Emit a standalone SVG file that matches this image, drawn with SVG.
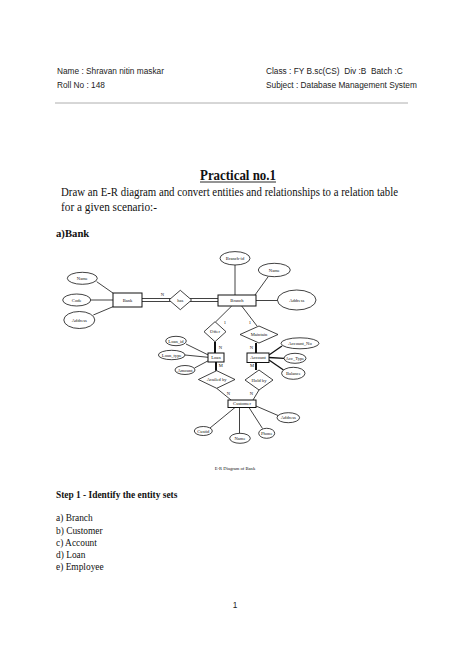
<svg xmlns="http://www.w3.org/2000/svg" width="474" height="670" viewBox="0 0 474 670">
<style>
.hdr{font-family:"Liberation Sans",Arial,sans-serif;font-size:8.3px;fill:#222;white-space:pre}
.tm{font-family:"Liberation Serif","Times New Roman",serif;fill:#111}
.lbl{font-family:"Liberation Serif","Times New Roman",serif;font-size:4.6px;text-anchor:middle;dominant-baseline:central;fill:#111}
.ent{fill:#fff;stroke:#111;stroke-width:1}
.att{fill:#fff;stroke:#111;stroke-width:0.8}
.rel{fill:#fff;stroke:#111;stroke-width:0.8}
.ln{stroke:#111;stroke-width:0.8;fill:none}
.thk{stroke:#111;stroke-width:2;fill:none}
.mid{stroke:#111;stroke-width:1.3;fill:none}
.it{font-size:9.4px}
</style>
<rect width="474" height="670" fill="#fff"/>

<g id="header">
<text class="hdr" x="57" y="74">Name : Shravan nitin maskar</text>
<text class="hdr" x="57" y="88">Roll No : 148</text>
<text class="hdr" x="266" y="74" xml:space="preserve">Class : FY B.sc(CS)  Div :B  Batch :C</text>
<text class="hdr" x="266" y="88">Subject : Database Management System</text>
<line x1="55" y1="103" x2="408" y2="103" stroke="#999" stroke-width="0.8"/>
</g>

<g id="title">
<text class="tm" x="200" y="180" font-size="14.5" font-weight="bold" textLength="76" lengthAdjust="spacingAndGlyphs">Practical no.1</text>
<line x1="200" y1="182" x2="276" y2="182" stroke="#111" stroke-width="0.9"/>
<text class="tm" x="61" y="196" font-size="11.6" textLength="337" lengthAdjust="spacingAndGlyphs">Draw an E-R diagram and convert entities and relationships to a relation table</text>
<text class="tm" x="61" y="211" font-size="11.6" textLength="96" lengthAdjust="spacingAndGlyphs">for a given scenario:-</text>
<text class="tm" x="56" y="236.5" font-size="10.7" font-weight="bold">a)Bank</text>
</g>

<g id="connectors">
<line class="ln" x1="96.7" y1="281.7" x2="113.3" y2="293.3"/>
<line class="ln" x1="90.7" y1="300" x2="113" y2="300"/>
<line class="ln" x1="93.3" y1="315" x2="113" y2="306.7"/>
<line class="ln" x1="142" y1="298.5" x2="170.8" y2="298.5"/>
<line class="ln" x1="142" y1="301.5" x2="170.8" y2="301.5"/>
<line class="ln" x1="189.8" y1="298.5" x2="218" y2="298.5"/>
<line class="ln" x1="189.8" y1="301.5" x2="218" y2="301.5"/>
<line class="ln" x1="235" y1="265" x2="235" y2="295"/>
<line class="ln" x1="268.3" y1="276.5" x2="255" y2="295"/>
<line class="ln" x1="256" y1="300.5" x2="277.4" y2="300.5"/>
<line class="ln" x1="231.7" y1="306" x2="215.5" y2="322"/>
<line class="ln" x1="241.7" y1="306" x2="257" y2="326"/>
<line class="thk" x1="215" y1="341.7" x2="215" y2="353"/>
<line class="thk" x1="216" y1="362" x2="216" y2="370.7"/>
<line class="ln" x1="186" y1="344" x2="208.3" y2="355"/>
<line class="ln" x1="185" y1="355" x2="208.3" y2="357.3"/>
<line class="ln" x1="194.5" y1="368" x2="208.3" y2="360.7"/>
<line class="thk" x1="256" y1="343" x2="256" y2="353"/>
<line class="thk" x1="256" y1="362.5" x2="256" y2="370"/>
<line class="mid" x1="269" y1="355" x2="282" y2="346"/>
<line class="mid" x1="269" y1="357.5" x2="284" y2="358.3"/>
<line class="mid" x1="269" y1="360" x2="283.5" y2="370"/>
<line class="ln" x1="216.7" y1="388.3" x2="231" y2="400"/>
<line class="ln" x1="259" y1="390" x2="253" y2="400"/>
<line class="ln" x1="235" y1="407.5" x2="210" y2="428"/>
<line class="ln" x1="239.5" y1="407.5" x2="239.5" y2="433.3"/>
<line class="ln" x1="249" y1="407.5" x2="262.5" y2="428.5"/>
<line class="ln" x1="256" y1="406" x2="278" y2="415.5"/>
<text class="lbl" x="162.3" y="294.3">N</text>
<text class="lbl" x="225" y="322">1</text>
<text class="lbl" x="250" y="322">1</text>
<text class="lbl" x="220.5" y="347.5">N</text>
<text class="lbl" x="220.7" y="365">M</text>
<text class="lbl" x="251.5" y="347">N</text>
<text class="lbl" x="252" y="365.5">M</text>
<text class="lbl" x="228.3" y="393.3">N</text>
<text class="lbl" x="251.5" y="393">N</text>
</g>

<g id="bank"><rect class="ent" x="113" y="293" width="29" height="14"/><text class="lbl" x="127.5" y="300">Bank</text></g>
<g id="bank-name"><ellipse class="att" cx="82.3" cy="278.3" rx="15" ry="6"/><text class="lbl" x="82.3" y="278.3">Name</text></g>
<g id="bank-code"><ellipse class="att" cx="76.7" cy="300" rx="14" ry="6"/><text class="lbl" x="76.7" y="300">Code</text></g>
<g id="bank-address"><ellipse class="att" cx="79.3" cy="320" rx="15.5" ry="8.5"/><text class="lbl" x="79.3" y="320">Address</text></g>
<g id="has"><polygon class="rel" points="169,300 180.3,290.3 191.6,300 180.3,309.7"/><text class="lbl" x="180.3" y="300">has</text></g>
<g id="branch"><rect class="ent" x="218" y="295" width="38" height="11"/><text class="lbl" x="237" y="300.5">Branch</text></g>
<g id="branch-id"><ellipse class="att" cx="235" cy="258.3" rx="15" ry="6.7"/><text class="lbl" x="235" y="258.3">Branch-id</text></g>
<g id="branch-name"><ellipse class="att" cx="274.3" cy="270" rx="16" ry="6.7"/><text class="lbl" x="274.3" y="270">Name</text></g>
<g id="branch-address"><ellipse class="att" cx="296.7" cy="300" rx="19.3" ry="10"/><text class="lbl" x="296.7" y="300">Address</text></g>
<g id="offer"><polygon class="rel" points="204,331.7 215,321.7 226,331.7 215,341.7"/><text class="lbl" x="215" y="331.7">Offer</text></g>
<g id="maintain"><polygon class="rel" points="240,334.5 259,326 278,334.5 259,343"/><text class="lbl" x="259" y="334.5">Maintain</text></g>
<g id="loan"><rect class="ent" x="208" y="353" width="16" height="9"/><text class="lbl" x="216" y="357.5">Loan</text></g>
<g id="loan-id"><ellipse class="att" cx="176" cy="341" rx="10.3" ry="4.7"/><text class="lbl" x="176" y="341">Loan_id</text></g>
<g id="loan-type"><ellipse class="att" cx="171.7" cy="355" rx="13.3" ry="4.7"/><text class="lbl" x="171.7" y="355">Loan_type</text></g>
<g id="loan-amount"><ellipse class="att" cx="185" cy="370" rx="10" ry="4.5"/><text class="lbl" x="185" y="370">Amount</text></g>
<g id="availed-by"><polygon class="rel" points="198.4,379.5 216.7,370.7 235,379.5 216.7,388.3"/><text class="lbl" x="216.7" y="379.5">Availed by</text></g>
<g id="account"><rect class="ent" x="247" y="353" width="22" height="9.5"/><text class="lbl" x="258" y="357.8">Account</text></g>
<g id="account-no"><ellipse class="att" cx="300" cy="343.3" rx="19" ry="5.5"/><text class="lbl" x="300" y="343.3">Account_No</text></g>
<g id="acc-type"><ellipse class="att" cx="295" cy="358.3" rx="11" ry="5"/><text class="lbl" x="295" y="358.3">Acc_Type</text></g>
<g id="balance"><ellipse class="att" cx="293.3" cy="373.3" rx="11.7" ry="6"/><text class="lbl" x="293.3" y="373.3">Balance</text></g>
<g id="hold-by"><polygon class="rel" points="245,380 259,370 273,380 259,390"/><text class="lbl" x="259" y="380">Hold by</text></g>
<g id="customer"><rect class="ent" x="228" y="400" width="28" height="7.5"/><text class="lbl" x="242" y="403.8">Customer</text></g>
<g id="custid"><ellipse class="att" cx="203.3" cy="431" rx="9" ry="4.5"/><text class="lbl" x="203.3" y="431">Custid</text></g>
<g id="cust-name"><ellipse class="att" cx="240" cy="438.3" rx="10.3" ry="5"/><text class="lbl" x="240" y="438.3">Name</text></g>
<g id="phone"><ellipse class="att" cx="266.7" cy="433.3" rx="8" ry="5"/><text class="lbl" x="266.7" y="433.3">Phone</text></g>
<g id="cust-address"><ellipse class="att" cx="288.3" cy="417.7" rx="11.3" ry="5"/><text class="lbl" x="288.3" y="417.7">Address</text></g>

<g id="body">
<text class="lbl" x="235" y="468">E-R Diagram of Bank</text>
<text class="tm it" x="56" y="497.5" font-weight="bold">Step 1 - Identify the entity sets</text>
<text class="tm it" x="56" y="521">a) Branch</text>
<text class="tm it" x="56" y="533.5">b) Customer</text>
<text class="tm it" x="56" y="545.5">c) Account</text>
<text class="tm it" x="56" y="558">d) Loan</text>
<text class="tm it" x="56" y="570">e) Employee</text>
<text class="hdr" x="235" y="608" text-anchor="middle" font-size="9">1</text>
</g>
</svg>
